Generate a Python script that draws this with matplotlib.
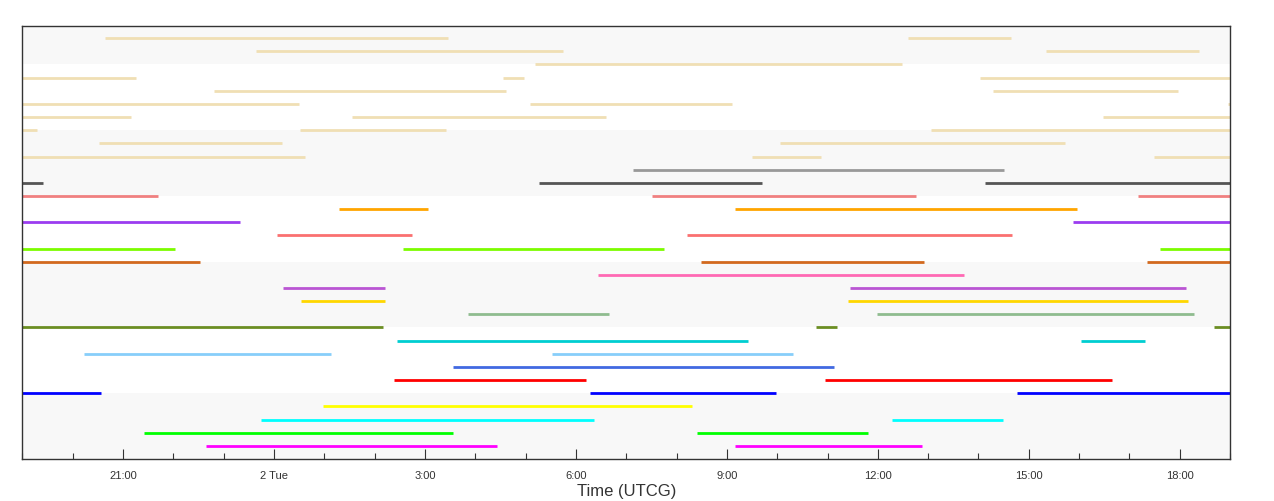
import matplotlib
matplotlib.use("Agg")
import matplotlib.pyplot as plt
import matplotlib.dates as mdates
import pandas as pd

plt.rcParams["font.family"] = ["Liberation Sans", "DejaVu Sans"]

# time window shown (UTCG)
t_start = "2024-01-01 19:00"
t_end = "2024-01-02 19:00"

# one entry per row, top row first; times are "day HH:MM" (day 01 or 02)
row_colors = [
    "#f0dfb4", "#f0dfb4", "#f0dfb4", "#f0dfb4", "#f0dfb4", "#f0dfb4",
    "#f0dfb4", "#f0dfb4", "#f0dfb4", "#f0dfb4",
    "#999999", "#555555", "#f08080", "#ffa500", "#9b3cf0", "#fa7070",
    "#7cfc00", "#d2691e", "#ff69b4", "#ba55d3", "#ffd700", "#8fbc8f",
    "#6b8e23", "#00ced1", "#87cefa", "#4169e1", "#ff0000", "#0000ff",
    "#ffff00", "#00ffff", "#00ff00", "#ff00ff",
]

row_segments = [
    [("01 20:39", "02 03:28"), ("02 12:36", "02 14:39")],
    [("01 23:39", "02 05:45"), ("02 15:20", "02 18:23")],
    [("02 05:11", "02 12:29")],
    [("01 19:00", "01 21:15"), ("02 04:33", "02 04:58"), ("02 14:02", "02 19:00")],
    [("01 22:48", "02 04:37"), ("02 14:17", "02 17:58")],
    [("01 19:00", "02 00:30"), ("02 05:05", "02 09:06"), ("02 18:57", "02 19:00")],
    [("01 19:00", "01 21:10"), ("02 01:33", "02 06:36"), ("02 16:29", "02 19:00")],
    [("01 19:00", "01 19:17"), ("02 00:31", "02 03:25"), ("02 13:04", "02 19:00")],
    [("01 20:31", "02 00:10"), ("02 10:03", "02 15:43")],
    [("01 19:00", "02 00:37"), ("02 09:30", "02 10:52"), ("02 17:29", "02 19:00")],
    [("02 07:08", "02 14:31")],
    [("01 19:00", "01 19:25"), ("02 05:16", "02 09:42"), ("02 14:08", "02 19:00")],
    [("01 19:00", "01 21:42"), ("02 07:31", "02 12:46"), ("02 17:10", "02 19:00")],
    [("02 01:18", "02 03:04"), ("02 09:10", "02 15:57")],
    [("01 19:00", "01 23:20"), ("02 15:53", "02 19:00")],
    [("02 00:03", "02 02:45"), ("02 08:13", "02 14:40")],
    [("01 19:00", "01 22:02"), ("02 02:34", "02 07:45"), ("02 17:36", "02 19:00")],
    [("01 19:00", "01 22:32"), ("02 08:29", "02 12:55"), ("02 17:21", "02 19:00")],
    [("02 06:26", "02 13:43")],
    [("02 00:11", "02 02:12"), ("02 11:27", "02 18:07")],
    [("02 00:32", "02 02:12"), ("02 11:25", "02 18:10")],
    [("02 03:51", "02 06:39"), ("02 11:59", "02 18:17")],
    [("01 19:00", "02 02:10"), ("02 10:46", "02 11:11"), ("02 18:41", "02 19:00")],
    [("02 02:27", "02 09:25"), ("02 16:02", "02 17:19")],
    [("01 20:14", "02 01:08"), ("02 05:31", "02 10:19")],
    [("02 03:33", "02 11:08")],
    [("02 02:23", "02 06:12"), ("02 10:57", "02 16:39")],
    [("01 19:00", "01 20:34"), ("02 06:17", "02 09:58"), ("02 14:46", "02 19:00")],
    [("02 00:58", "02 08:19")],
    [("01 23:44", "02 06:22"), ("02 12:17", "02 14:29")],
    [("01 21:25", "02 03:33"), ("02 08:24", "02 11:48")],
    [("01 22:39", "02 04:26"), ("02 09:10", "02 12:53")],
]


def to_time(s):
    day, hm = s.split()
    return pd.Timestamp(f"2024-01-{day} {hm}")


fig = plt.figure(figsize=(12.74, 5.02), dpi=100)
ax = fig.add_axes([0.0176, 0.0837, 0.9479, 0.8619])

n_rows = len(row_segments)
# alternating background bands, 5 rows each
for lo in range(0, n_rows + 5, 10):
    ax.axhspan(lo, lo + 5, color="#f8f8f8", zorder=0, lw=0)

for i, (color, segs) in enumerate(zip(row_colors, row_segments)):
    y = n_rows - i
    starts = [to_time(a) for a, b in segs]
    ends = [to_time(b) for a, b in segs]
    ax.hlines([y] * len(segs), starts, ends, colors=color, lw=2.0, zorder=2)

ax.set_xlim(pd.Timestamp(t_start), pd.Timestamp(t_end))
ax.set_ylim(0, n_rows + 0.9)
ax.set_yticks([])

ax.xaxis.set_major_locator(mdates.HourLocator(byhour=range(0, 24, 3)))
ax.xaxis.set_minor_locator(mdates.HourLocator())


def fmt(x, pos=None):
    d = mdates.num2date(x)
    if d.hour == 0:
        return f"{d.day} {d.strftime('%a')}"
    return f"{d.hour}:{d.minute:02d}"


ax.xaxis.set_major_formatter(plt.FuncFormatter(fmt))
ax.tick_params(axis="x", which="major", direction="in", length=7, width=0.8,
               color="#333333", labelsize=8, pad=8, labelcolor="#333333")
ax.tick_params(axis="x", which="minor", direction="in", length=4, width=0.8,
               color="#333333")
ax.set_xlabel("Time (UTCG)", fontsize=12, color="#333333", labelpad=2)

for sp in ax.spines.values():
    sp.set_color("#333333")
    sp.set_linewidth(1.0)

fig.savefig("out.png", dpi=100)
